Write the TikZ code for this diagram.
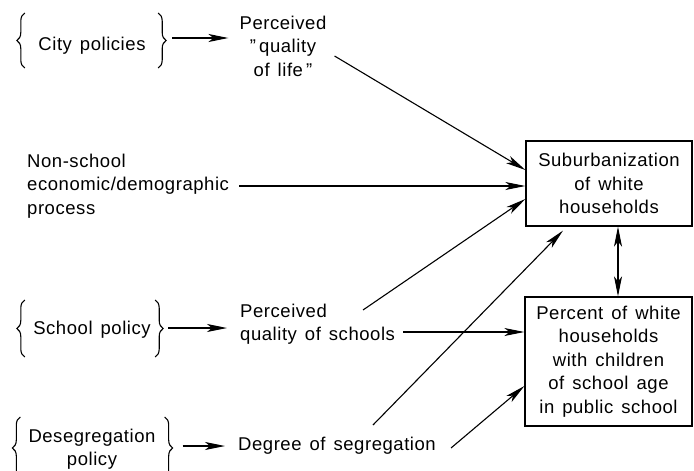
\documentclass[tikz,border=0pt]{standalone}
\usepackage{fontspec}
\setmainfont{Liberation Sans}[LetterSpace=3, WordSpace=1.4]
\usetikzlibrary{arrows.meta,decorations.pathreplacing}
\tikzstyle{lbl}=[inner sep=0pt, font=\fontsize{18.5}{23.5}\selectfont]
\tikzstyle{pol}=[lbl, minimum width=118pt, align=center]
\tikzstyle{box}=[lbl, draw, line width=1.2pt, align=center]
\tikzstyle{brc}=[decorate, decoration={brace, amplitude=8pt}, line width=1.1pt]
\tikzstyle{arr}=[-{Stealth[length=20pt,width=8pt,inset=5pt]}, line width=1.1pt]
\newcommand{\lbl}{\node[lbl]}

\begin{document}
\begin{tikzpicture}[x=1pt, y=-1pt]
\useasboundingbox (0,0) rectangle (694,471);
\node[pol] (city) at (92,46) {City policies};
\lbl[align=center] (qol) at (283,46) {Perceived\\"\,quality\\of life\,"};
\lbl[align=left, anchor=west] (nonsch) at (27,186) {Non-school\\economic/demographic\\process};
\node[pol] (school) at (92,330) {School policy};
\lbl[align=left, anchor=west] (pqs) at (240,324) {Perceived\\quality of schools};
\node[pol] (deseg) at (92,449) {Desegregation\\policy};
\lbl[anchor=west] (dos) at (238,446) {Degree of segregation};
\node[box, minimum width=166pt, minimum height=85pt] (subur) at (609,183.5)
    {Suburbanization\\of white\\households};
\node[box, minimum width=167pt, minimum height=129pt] (pct) at (608.5,361.5)
    {Percent of white\\households\\with children\\of school age\\in public school};
% braces round the policies
\draw[brc] ([shift={(-8pt,-22pt)}]city.west) -- ([shift={(-8pt,33pt)}]city.west);
\draw[brc] ([shift={(7pt,33pt)}]city.east) -- ([shift={(7pt,-22pt)}]city.east);
\draw[brc] ([shift={(-8pt,-27pt)}]school.west) -- ([shift={(-8pt,30pt)}]school.west);
\draw[brc] ([shift={(4pt,30pt)}]school.east) -- ([shift={(4pt,-27pt)}]school.east);
\draw[brc] ([shift={(-8pt,-30pt)}]deseg.west) -- ([shift={(-8pt,32pt)}]deseg.west);
\draw[brc] ([shift={(9pt,32pt)}]deseg.east) -- ([shift={(9pt,-30pt)}]deseg.east);
\path[arr]
([shift={(21pt,8pt)}]city.east) edge ([shift={(-11pt,8pt)}]qol.west)
([shift={(17pt,2pt)}]school.east) edge ([shift={(-13pt,-4pt)}]pqs.west)
([shift={(27pt,3pt)}]deseg.east) edge ([xshift=-13pt]dos.west)
([xshift=8pt,yshift=-10pt]qol.east) edge ([yshift=13.5pt]subur.west)
([xshift=10pt]nonsch.east) edge (nonsch.east -| subur.west)
([shift={(123pt,14pt)}]pqs.west) edge ([yshift=-15.5pt]subur.west)
([shift={(135pt,21pt)}]dos.west) edge ([shift={(-46pt,-4pt)}]subur.south)
([xshift=8pt,yshift=-8pt]pqs.east) edge ([yshift=29.5pt]pct.west)
([shift={(15pt,-2pt)}]dos.east) edge ([yshift=-24.5pt]pct.west)
;
\path[arr, {Stealth[length=20pt,width=8pt,inset=5pt]}-{Stealth[length=20pt,width=8pt,inset=5pt]}]
([xshift=9pt]subur.south) edge ([xshift=9pt]subur.south |- pct.north);
\end{tikzpicture}
\end{document}
